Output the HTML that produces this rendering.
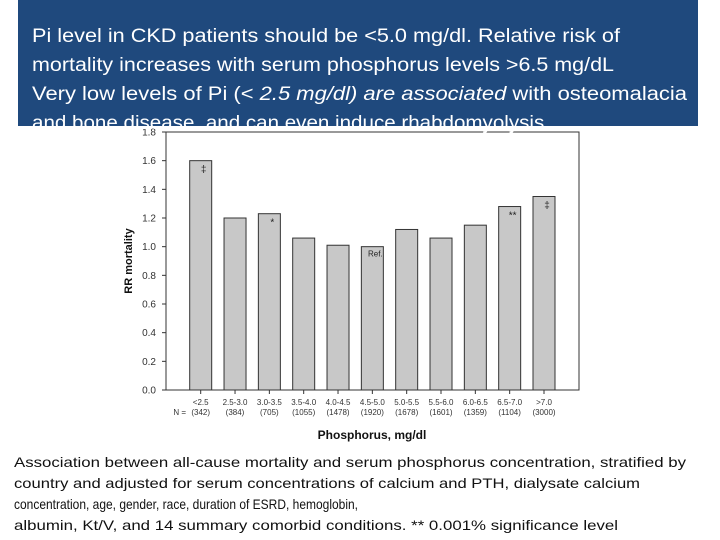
<!DOCTYPE html>
<html><head><meta charset="utf-8"><style>
html,body{margin:0;padding:0;background:#fff;}
svg{display:block;font-family:"Liberation Sans",Arial,sans-serif;}
</style></head><body>
<svg id="chart" width="720" height="540" viewBox="0 0 720 540">
<rect x="0" y="0" width="720" height="540" fill="#fff"/>
<g id="plot"></g>
<rect x="18" y="0" width="680" height="126" fill="#1f497d"/>
<g fill="#fff" font-size="19">
<text x="32" y="42" textLength="588" lengthAdjust="spacingAndGlyphs">Pi level in CKD patients should be &lt;5.0 mg/dl. Relative risk of</text>
<text x="32" y="71" textLength="582" lengthAdjust="spacingAndGlyphs">mortality increases with serum phosphorus levels &gt;6.5 mg/dL</text>
<text x="32" y="100" textLength="655" lengthAdjust="spacingAndGlyphs">Very low levels of Pi (&lt; <tspan font-style="italic">2.5 mg/dl) are associated</tspan> with osteomalacia</text>
<text x="32" y="129" textLength="518" lengthAdjust="spacingAndGlyphs">and bone disease, and can even induce rhabdomyolysis.</text>
</g>
<g fill="#111" font-size="14">
<text x="14" y="467" textLength="672" lengthAdjust="spacingAndGlyphs">Association between all-cause mortality and serum phosphorus concentration, stratified by</text>
<text x="14" y="488" textLength="626" lengthAdjust="spacingAndGlyphs">country and adjusted for serum concentrations of calcium and PTH, dialysate calcium</text>
<text x="14" y="509" textLength="344" lengthAdjust="spacingAndGlyphs">concentration, age, gender, race, duration of ESRD, hemoglobin,</text>
<text x="14" y="530" textLength="604" lengthAdjust="spacingAndGlyphs">albumin, Kt/V, and 14 summary comorbid conditions. ** 0.001% significance level</text>
</g>
</svg>
<script>
const categories = ["<2.5","2.5-3.0","3.0-3.5","3.5-4.0","4.0-4.5","4.5-5.0","5.0-5.5","5.5-6.0","6.0-6.5","6.5-7.0",">7.0"];
const counts = ["(342)","(384)","(705)","(1055)","(1478)","(1920)","(1678)","(1601)","(1359)","(1104)","(3000)"];
const rrValues = [1.60,1.20,1.23,1.06,1.01,1.00,1.12,1.06,1.15,1.28,1.35];
const markers = ["‡","","*","","","Ref.","","","","**","‡"];
const yTicks = [0,0.2,0.4,0.6,0.8,1.0,1.2,1.4,1.6,1.8];
const NS="http://www.w3.org/2000/svg";
const g=document.getElementById('plot');
const X0=166,X1=579,Y0=390,Y1=132,YMAX=1.8;
const y=v=>Y0-(v/YMAX)*(Y0-Y1);
const step=34.33, first=200.7, bw=22;
const x=i=>first+i*step;
function mk(t,a,txt){const e=document.createElementNS(NS,t);for(const k in a)e.setAttribute(k,a[k]);if(txt!=null)e.textContent=txt;g.appendChild(e);return e;}
let e=mk('rect',{x:X0,y:Y1,width:X1-X0,height:Y0-Y1,fill:'#fff',stroke:'#333','stroke-width':1});


yTicks.forEach(v=>{
  let t=mk('line',{x1:X0-4,x2:X0,y1:y(v),y2:y(v),stroke:'#333'});
  
  
  let l=mk('text',{x:X0-10,y:y(v)+3.5,'font-size':10,'text-anchor':'end',fill:'#333'},v.toFixed(1));
  
  
});
rrValues.forEach((v,i)=>{
  let b=mk('rect',{x:x(i)-bw/2,y:y(v),width:bw,height:Y0-y(v),fill:'#c8c8c8',stroke:'#333','stroke-width':1});
  
  
  let t=mk('line',{x1:x(i),x2:x(i),y1:Y0,y2:Y0+4,stroke:'#333'});
  
  
  let c=mk('text',{x:x(i),y:405,'font-size':8,'text-anchor':'middle',fill:'#333'},categories[i]);
  
  
  let n=mk('text',{x:x(i),y:415,'font-size':8,'text-anchor':'middle',fill:'#333'},counts[i]);
  
  
  if(markers[i]){
    let m=mk('text',{x:x(i)+3,y:y(v)+(markers[i]==='Ref.'?10:12),'font-size':markers[i]==='Ref.'?8:10,'text-anchor':'middle',fill:'#222'},markers[i]);
    
    
  }
});
e=mk('text',{x:186,y:415,'font-size':8,'text-anchor':'end',fill:'#333'},'N =');


e=mk('text',{x:372,y:439,'font-size':12,'font-weight':'bold','text-anchor':'middle',fill:'#111'},'Phosphorus, mg/dl');


e=mk('text',{x:132,y:261,'font-size':11,'font-weight':'bold','text-anchor':'middle',fill:'#111',transform:'rotate(-90 132 261)'},'RR mortality');


</script>
</body></html>
